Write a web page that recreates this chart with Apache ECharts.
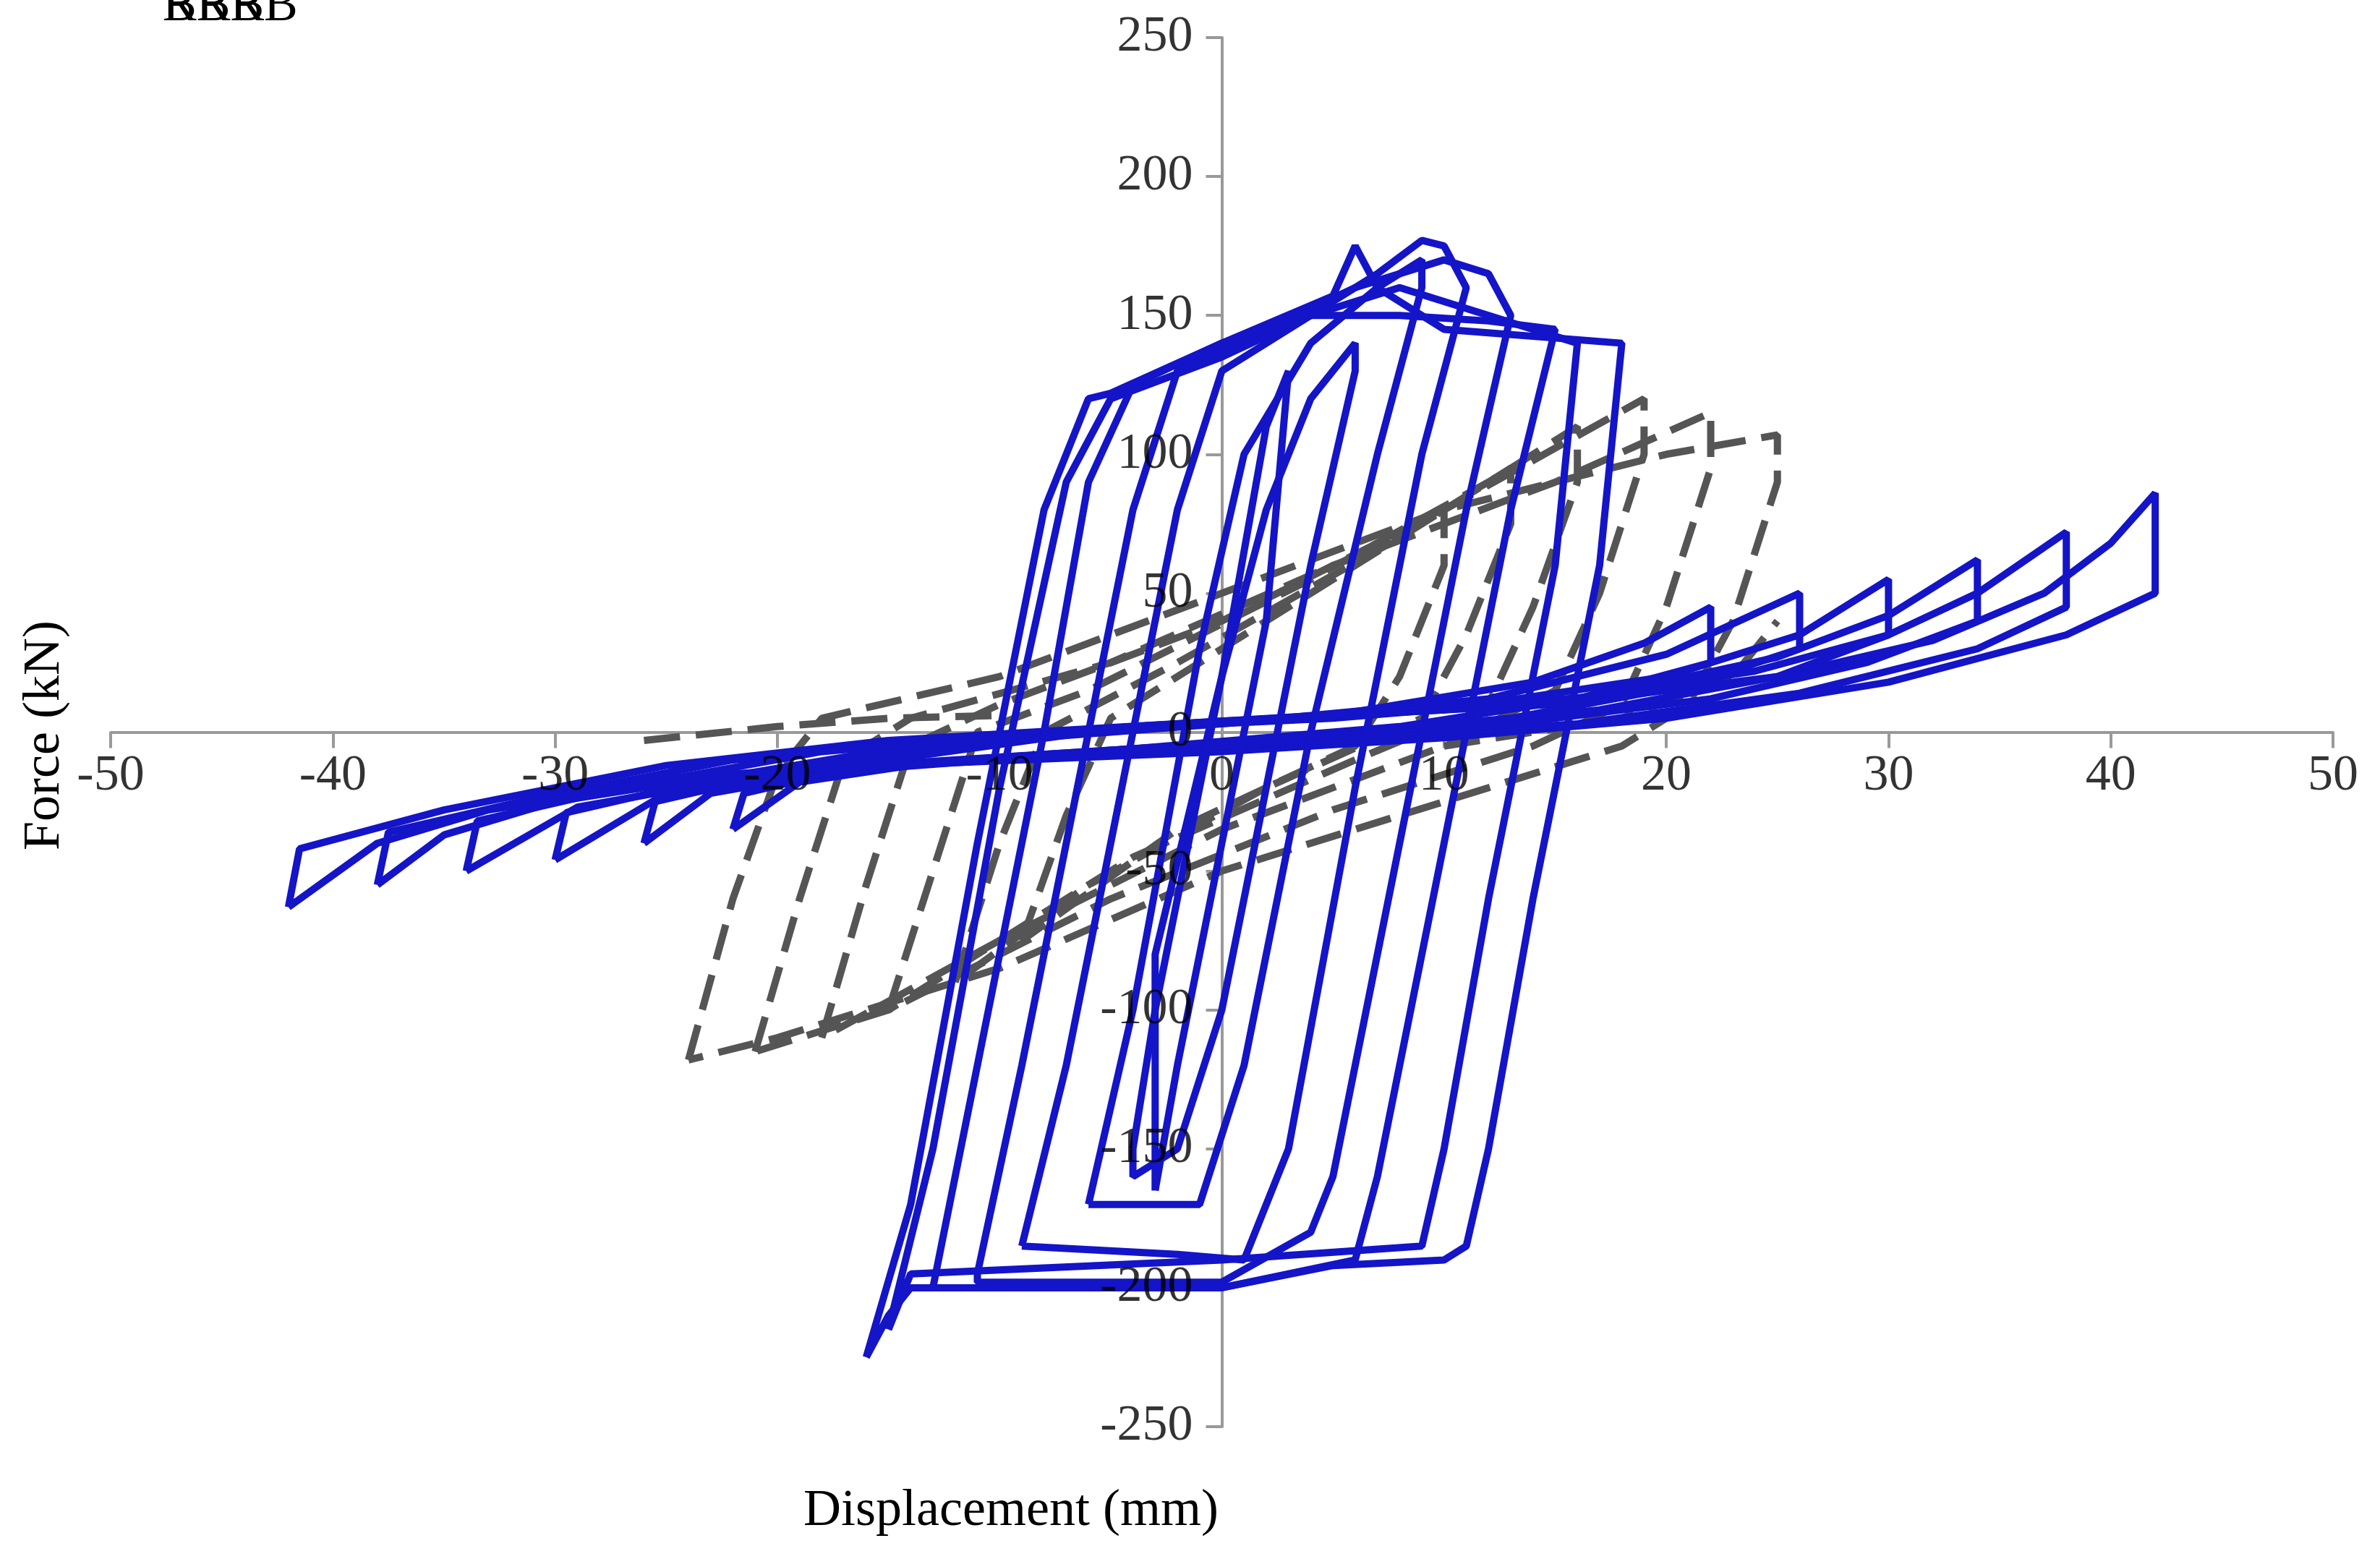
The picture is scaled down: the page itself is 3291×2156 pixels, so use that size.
<!DOCTYPE html>
<html><head><meta charset="utf-8">
<script src="https://cdn.jsdelivr.net/npm/echarts@6/dist/echarts.min.js"></script>
<style>html,body{margin:0;padding:0;background:#fff}#c{width:3291px;height:2156px}</style>
</head><body><div id="c"></div>
<script>
// X/Y tick values
const xTicks = [-50,-40,-30,-20,-10,0,10,20,30,40,50];
const yTicks = [-250,-200,-150,-100,-50,0,50,100,150,200,250];

// RBRB loops (displacement mm, force kN)
const rbrbC1 = [[-4,-150],[-3,-100],[0,20],[2,80],[4,120],[6,140],[6,130],[4,60],[2,-20],[0,-100],[-2,-150],[-4,-160],[-4,-150]];
const rbrbC2 = [[-6,-170],[-4,-100],[-1,30],[1,100],[4,140],[7,160],[9,170],[9,160],[7,100],[4,0],[1,-120],[-1,-170],[-6,-170]];
const rbrbC3 = [[-9,-185],[-7,-120],[-4,0],[-2,80],[0,130],[4,150],[7,165],[9,177],[10,175],[11,160],[9,100],[6,-20],[3,-150],[1,-190],[-2,-188],[-9,-185]];
const rbrbC4 = [[-11,-195],[-9,-120],[-6,0],[-4,80],[-2,130],[2,145],[6,160],[10,170],[12,165],[13,150],[11,80],[8,-40],[5,-160],[4,-180],[0,-198],[-11,-198],[-11,-195]];
const rbrbC5 = [[-13,-200],[-11,-120],[-8,0],[-6,90],[-4,125],[0,140],[4,150],[8,150],[12,148],[15,145],[13,80],[10,-40],[7,-160],[6,-190],[3,-195],[0,-200],[-13,-200]];
const rbrbC6 = [[-16,-225],[-14,-170],[-11,-40],[-8,80],[-6,120],[-5,122],[0,140],[5,157],[6,175],[7,160],[10,145],[18,140],[17,60],[14,-60],[12,-150],[11,-185],[10,-190],[5,-192],[0,-200],[-14,-200],[-15,-210],[-16,-225]];
const rbrbC7 = [[-15,-215],[-13,-150],[-10,-20],[-7,90],[-5,120],[0,135],[4,150],[8,160],[14,145],[16,140],[15,60],[12,-60],[10,-150],[9,-185],[0,-190],[-14,-195],[-15,-215]];
const rbrbC8 = [[-3,-165],[-3,-80],[0,20],[2,110],[3,130],[2,40],[0,-40],[-2,-120],[-3,-165]];
const rbrbO42 = [[-42,-63],[-41.5,-42],[-35,-28],[-25,-12],[-15,-3],[0,4],[15,10],[25,20],[32,33],[37,50],[40,68],[42,86],[42,50],[38,35],[30,18],[20,5],[10,-2],[0,-7],[-15,-12],[-25,-18],[-33,-28],[-38,-40],[-42,-63]];
const rbrbO38 = [[-38,-55],[-37.5,-36],[-31,-24],[-22,-10],[-12,-2],[0,4],[15,11],[24,22],[30,35],[34,50],[38,72],[38,45],[34,30],[26,14],[16,3],[5,-3],[-10,-9],[-22,-15],[-30,-25],[-35,-37],[-38,-55]];
const rbrbO34 = [[-34,-50],[-33.5,-32],[-27,-20],[-18,-7],[-8,0],[5,5],[17,13],[25,27],[30,42],[34,62],[34,40],[29,25],[22,12],[12,2],[0,-5],[-12,-11],[-22,-17],[-29,-27],[-34,-50]];
const rbrbO30 = [[-30,-46],[-29.5,-29],[-23,-17],[-14,-5],[-4,2],[10,8],[20,20],[26,35],[30,55],[30,35],[25,20],[17,8],[6,-1],[-8,-8],[-18,-14],[-25,-22],[-30,-46]];
const rbrbO26 = [[-26,-40],[-25.5,-25],[-19,-13],[-10,-3],[0,3],[12,12],[20,28],[26,50],[26,30],[21,17],[13,5],[2,-3],[-10,-9],[-18,-15],[-23,-22],[-26,-40]];
const rbrbO22 = [[-22,-35],[-21.5,-22],[-15,-10],[-6,0],[5,6],[14,18],[19,32],[22,45],[22,25],[16,12],[8,2],[-4,-6],[-14,-12],[-19,-18],[-22,-35]];

// BRB loops
const brb25 = [[-24,-118],[-22,-60],[-20,-15],[-18,5],[-10,20],[0,50],[10,80],[20,100],[25,107],[25,90],[23,40],[21,10],[18,-5],[10,-25],[0,-50],[-10,-85],[-20,-110],[-24,-118]];
const brb22 = [[-21,-115],[-19,-60],[-17,-10],[-14,5],[-5,25],[5,60],[15,90],[22,115],[22,95],[20,45],[18,10],[14,-5],[5,-28],[-5,-60],[-15,-100],[-21,-115]];
const brb19 = [[-18,-110],[-16,-55],[-14,-5],[-10,10],[0,40],[10,80],[19,120],[19,100],[17,50],[15,15],[10,-5],[0,-35],[-10,-75],[-18,-110]];
const brb16 = [[-15,-100],[-13,-50],[-11,0],[-6,15],[4,55],[12,90],[16,110],[16,90],[14,45],[12,10],[6,-10],[-4,-45],[-15,-100]];
const brb13 = [[-12,-90],[-10,-40],[-8,0],[-2,25],[8,70],[13,95],[13,75],[11,35],[9,5],[2,-20],[-6,-55],[-12,-90]];
const brb10 = [[-9,-75],[-7,-30],[-5,5],[2,40],[10,80],[10,60],[8,20],[6,-5],[-2,-35],[-9,-75]];
const brbTail = [[-26,-3],[-20,2],[-15,5],[-10,6]];
const brbTailR = [[10,-5],[18,5],[23,20],[25,40]];

const rbrbLoops = [rbrbO42,rbrbO38,rbrbO34,rbrbO30,rbrbO26,rbrbO22,rbrbC1,rbrbC2,rbrbC3,rbrbC4,rbrbC5,rbrbC6,rbrbC7,rbrbC8];
const brbLoops = [brb25,brb22,brb19,brb16,brb13,brb10,brbTail,brbTailR];

const FONT = 'Liberation Serif';
const BLUE = '#1414c8', GREY = '#555';
const series = [];
brbLoops.forEach(d => series.push({name:'BRB',type:'line',data:d,symbol:'none',z:2,
  lineStyle:{color:GREY,width:10,type:[50,22]},itemStyle:{color:GREY}}));
rbrbLoops.forEach(d => series.push({name:'RBRB',type:'line',data:d,symbol:'none',z:3,
  lineStyle:{color:BLUE,width:10},itemStyle:{color:BLUE}}));
// tick labels drawn at the axis crossing
series.push({type:'scatter',silent:true,symbolSize:0,z:5,
  data:xTicks.map(v=>[v,0]),
  label:{show:true,position:'bottom',distance:26,formatter:p=>String(p.value[0]),fontFamily:FONT,fontSize:70,color:'#000'}});
series.push({type:'scatter',silent:true,symbolSize:0,z:5,
  data:yTicks.map(v=>[0,v]),
  label:{show:true,position:'left',distance:40,formatter:p=>String(p.value[1]),fontFamily:FONT,fontSize:70,color:'#000'}});

const chart = echarts.init(document.getElementById('c'));
chart.setOption({
  animation:false,
  grid:{left:153,right:65,top:52,bottom:183},
  xAxis:{type:'value',min:-50,max:50,interval:10,splitLine:{show:false},
    axisLine:{onZero:true,lineStyle:{color:'#999',width:4}},
    axisTick:{length:22,lineStyle:{color:'#999',width:4}},
    axisLabel:{show:false}},
  yAxis:{type:'value',min:-250,max:250,interval:50,splitLine:{show:false},
    axisLine:{onZero:true,lineStyle:{color:'#999',width:4}},
    axisTick:{length:22,lineStyle:{color:'#999',width:4}},
    axisLabel:{show:false}},
  legend:{data:[{name:'RBRB',icon:'path://M0,0L1,0'},{name:'BRB',icon:'path://M0,0L1,0'}],orient:'vertical',left:2660,top:1535,
    itemWidth:220,itemHeight:20,itemGap:68,
    textStyle:{fontFamily:FONT,fontSize:70,color:'#000'}},
  graphic:[
    {type:'text',x:1398,y:2090,style:{text:'Displacement (mm)',font:'72px "Liberation Serif"',fill:'#000',align:'center',verticalAlign:'middle'}},
    {type:'text',x:62,y:1017,rotation:Math.PI/2,style:{text:'Force (kN)',font:'72px "Liberation Serif"',fill:'#000',align:'center',verticalAlign:'middle'}}
  ],
  series:series
});
</script></body></html>
